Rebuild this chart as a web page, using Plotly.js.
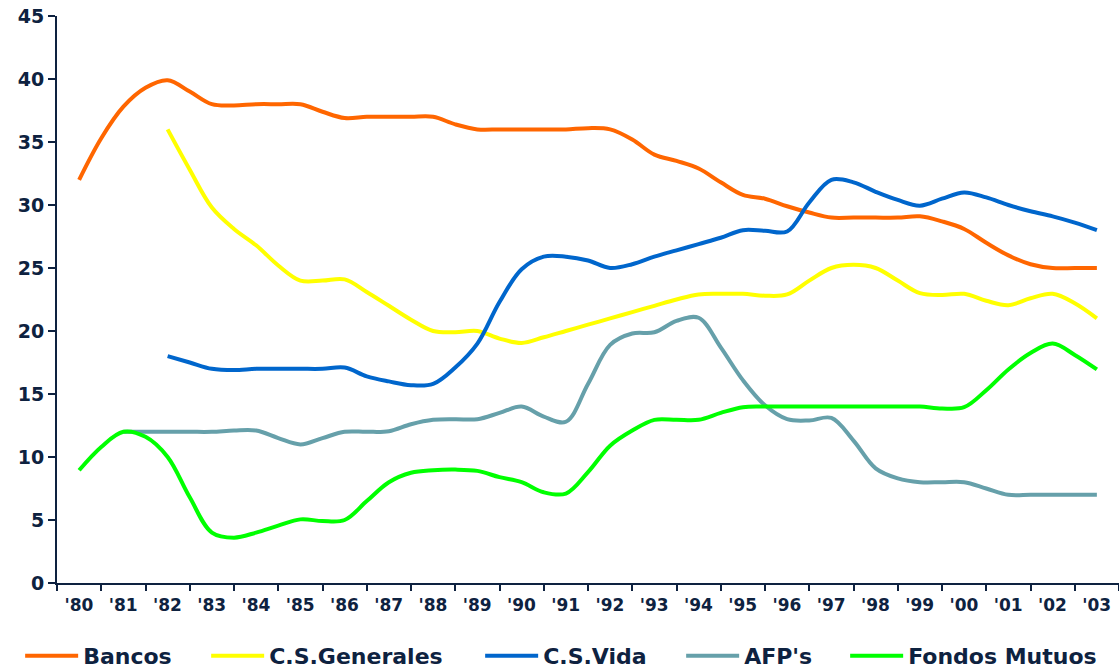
<!DOCTYPE html>
<html>
<head>
<meta charset="utf-8">
<script src="https://cdn.plot.ly/plotly-3.0.1.min.js"></script>
<style>
  html, body { margin: 0; padding: 0; background: #ffffff; }
  #chart { width: 1119px; height: 669px; }
</style>
</head>
<body>
<div id="chart"></div>
<script>
// Half-year periods (1980.0 = year '80 midpoint of category)
const periods = [1980, 1980.5, 1981, 1981.5, 1982, 1982.5, 1983, 1983.5, 1984, 1984.5,
  1985, 1985.5, 1986, 1986.5, 1987, 1987.5, 1988, 1988.5, 1989, 1989.5,
  1990, 1990.5, 1991, 1991.5, 1992, 1992.5, 1993, 1993.5, 1994, 1994.5,
  1995, 1995.5, 1996, 1996.5, 1997, 1997.5, 1998, 1998.5, 1999, 1999.5,
  2000, 2000.5, 2001, 2001.5, 2002, 2002.5, 2003];

const yearTicks = [1980, 1981, 1982, 1983, 1984, 1985, 1986, 1987, 1988, 1989, 1990, 1991,
  1992, 1993, 1994, 1995, 1996, 1997, 1998, 1999, 2000, 2001, 2002, 2003];
const yearLabels = ["'80", "'81", "'82", "'83", "'84", "'85", "'86", "'87", "'88", "'89", "'90", "'91",
  "'92", "'93", "'94", "'95", "'96", "'97", "'98", "'99", "'00", "'01", "'02", "'03"];

const seriesNames = ["Bancos", "C.S.Generales", "C.S.Vida", "AFP's", "Fondos Mutuos"];

const bancos = [32.0, 35.3, 37.8, 39.3, 39.9, 39.0, 38.0, 37.9, 38.0, 38.0,
  38.0, 37.4, 36.9, 37.0, 37.0, 37.0, 37.0, 36.4, 36.0, 36.0,
  36.0, 36.0, 36.0, 36.1, 36.0, 35.2, 34.0, 33.5, 32.9, 31.8,
  30.8, 30.5, 29.9, 29.4, 29.0, 29.0, 29.0, 29.0, 29.1, 28.7,
  28.1, 27.0, 26.0, 25.3, 25.0, 25.0, 25.0];

const csGenerales = [null, null, null, null, 36.0, 32.8, 29.8, 28.1, 26.8, 25.2,
  24.0, 24.0, 24.1, 23.1, 22.0, 20.9, 20.0, 19.9, 20.0, 19.4,
  19.05, 19.5, 20.0, 20.5, 21.0, 21.5, 22.0, 22.5, 22.9, 22.95,
  22.95, 22.8, 22.9, 24.0, 25.0, 25.25, 25.0, 24.0, 23.0, 22.85,
  22.95, 22.4, 22.05, 22.6, 22.95, 22.2, 21.0];

const csVida = [null, null, null, null, 18.0, 17.5, 17.0, 16.9, 17.0, 17.0,
  17.0, 17.0, 17.1, 16.4, 16.0, 15.7, 15.8, 17.1, 19.0, 22.3,
  24.9, 25.9, 25.9, 25.6, 25.0, 25.3, 25.9, 26.4, 26.9, 27.4,
  28.0, 27.95, 27.9, 30.2, 32.0, 31.8, 31.05, 30.4, 29.95, 30.5,
  31.0, 30.6, 30.0, 29.5, 29.1, 28.6, 28.0];

const afps = [null, null, 12.0, 12.0, 12.0, 12.0, 12.0, 12.1, 12.1, 11.5,
  11.0, 11.5, 12.0, 12.0, 12.05, 12.6, 12.95, 13.0, 13.0, 13.5,
  14.0, 13.2, 12.8, 15.8, 18.9, 19.8, 19.9, 20.8, 21.05, 18.7,
  16.1, 14.1, 13.0, 12.9, 13.1, 11.3, 9.1, 8.3, 8.0, 8.0,
  8.0, 7.5, 7.0, 7.0, 7.0, 7.0, 7.0];

const fondosMutuos = [8.95, 10.8, 12.0, 11.6, 10.0, 6.8, 4.0, 3.6, 4.0, 4.55,
  5.05, 4.92, 5.0, 6.5, 8.0, 8.75, 8.95, 9.0, 8.9, 8.4,
  8.0, 7.2, 7.1, 8.8, 10.9, 12.1, 12.95, 12.95, 12.95, 13.5,
  13.95, 14.0, 14.0, 14.0, 14.0, 14.0, 14.0, 14.0, 14.0, 13.85,
  13.95, 15.3, 16.95, 18.25, 19.0, 18.1, 16.95];

const colors = ["#FF6600", "#FFFF00", "#0066CC", "#66A0AA", "#00FF00"];
// per-entry legend widths (px) to space the legend like the original
const legendWidths = [118, 206, 133, 96, 200];
const allSeries = [bancos, csGenerales, csVida, afps, fondosMutuos];

const navy = "#0E2240";
const fontFam = "DejaVu Sans, Verdana, sans-serif";

const boundaries = yearTicks.map(y => y - 0.5).concat([2003.5]);

const traces = allSeries.map((vals, i) => ({
  x: periods,
  y: vals,
  name: seriesNames[i],
  type: "scatter",
  mode: "lines",
  line: { color: colors[i], width: 4, shape: "spline", smoothing: 1 },
  connectgaps: false,
  legendwidth: legendWidths[i],
  hoverinfo: "x+y+name"
}));

const layout = {
  width: 1119,
  height: 669,
  paper_bgcolor: "#ffffff",
  plot_bgcolor: "#ffffff",
  margin: { l: 57, r: 0, t: 16, b: 86, autoexpand: false },
  font: { family: fontFam, color: navy, size: 18, weight: "bold" },
  showlegend: true,
  legend: {
    orientation: "h",
    x: -0.0347,
    xanchor: "left",
    y: -0.0917,
    yanchor: "top",
    font: { family: fontFam, size: 22, color: navy, weight: "bold" },
    itemwidth: 53,
    entrywidthmode: "pixels",
    tracegroupgap: 0
  },
  xaxis: {
    range: [1979.5, 2003.5],
    tickmode: "array",
    tickvals: boundaries,
    ticktext: boundaries.map((b, i) => i < yearLabels.length ? yearLabels[i] : ""),
    ticklabelshift: 22,
    ticks: "outside",
    ticklen: 6,
    tickwidth: 2,
    tickcolor: navy,
    showline: true,
    linecolor: navy,
    linewidth: 2,
    showgrid: false,
    zeroline: false,
    tickfont: { family: fontFam, size: 17, color: navy, weight: "bold" },
    fixedrange: true
  },
  yaxis: {
    range: [0, 45],
    tickmode: "linear",
    tick0: 0,
    dtick: 5,
    ticks: "outside",
    ticklen: 7,
    tickwidth: 2,
    tickcolor: navy,
    showline: true,
    linecolor: navy,
    linewidth: 2,
    showgrid: false,
    zeroline: false,
    tickfont: { family: fontFam, size: 19, color: navy, weight: "bold" },
    fixedrange: true
  }
};

Plotly.newPlot("chart", traces, layout, { displayModeBar: false, staticPlot: true });
</script>
</body>
</html>
